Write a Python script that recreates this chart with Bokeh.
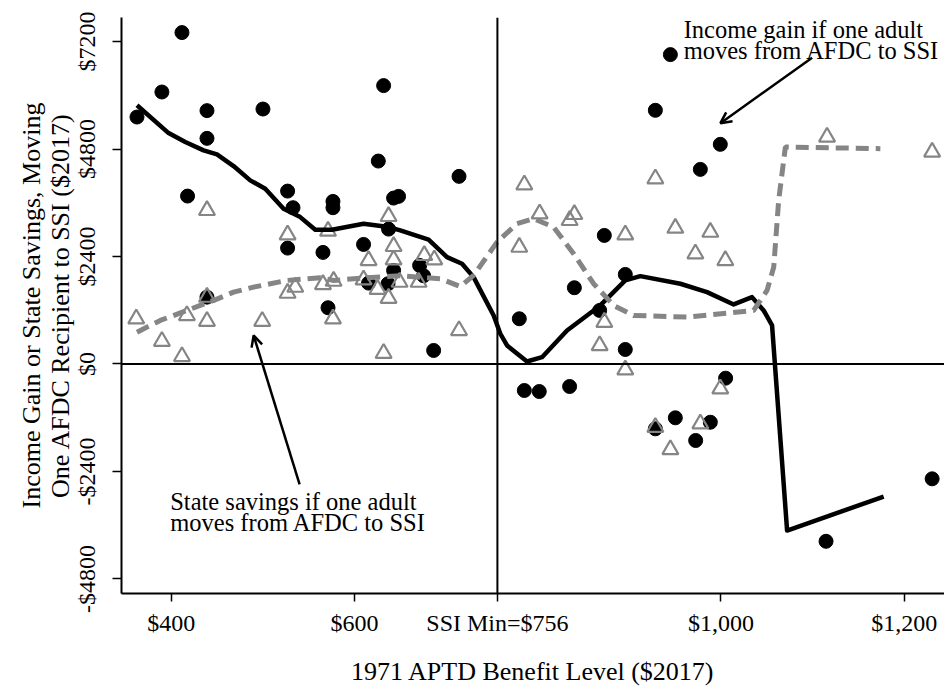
from bokeh.plotting import figure
from bokeh.models import Range1d, FixedTicker, Span, Label, Arrow, OpenHead
from bokeh.embed import file_html
from bokeh.resources import INLINE

# ---- data ----
gain_x = [362.6, 389.8, 411.7, 439.0, 439.0, 500.1, 417.8, 527.0, 532.9, 527.0,
          439.0, 565.6, 571.1, 576.5, 576.5, 609.9, 615.4, 626.0, 631.8, 637.2,
          642.7, 648.1, 642.7, 636.6, 671.1, 675.4, 686.4, 714.1, 779.9, 785.4,
          801.7, 834.8, 840.0, 867.6, 872.7, 895.6, 895.6, 928.4, 944.8, 977.5,
          999.3, 1005.1, 950.2, 928.4, 988.4, 972.4, 1114.7, 1230.5]
gain_y = [5515, 6074, 7401, 5658, 5039, 5694, 3750, 3861, 3490, 2588,
          1493, 2492, 1256, 3631, 3490, 2670, 1806, 4532, 6217, 3012,
          3705, 3743, 2089, 1792, 2201, 1971, 302, 4190, 1010, -592,
          -615, -503, 1703, 1196, 2871, 2000, 324, 5665, 6909, 4346,
          4905, -317, -1202, -1448, -1301, -1709, -3960, -2565]

save_x = [361.8, 389.8, 411.7, 417.1, 439.0, 439.0, 439.0, 499.3, 527.0, 527.0,
          535.4, 565.6, 571.1, 577.2, 576.5, 609.9, 615.4, 625.2, 631.8, 637.2,
          637.2, 642.7, 642.7, 649.2, 670.0, 676.2, 687.1, 714.1, 779.9, 785.4,
          802.1, 834.8, 840.0, 867.6, 872.7, 895.6, 895.6, 928.4, 928.4, 950.2,
          972.1, 988.4, 1004.8, 999.3, 977.5, 944.8, 1115.8, 1230.5]
save_y = [1010, 509, 168, 1084, 956, 3430, 1493, 956, 2887, 1582,
          1716, 1777, 2968, 1850, 1010, 1882, 2313, 1671, 241, 3296,
          1470, 2626, 2328, 1828, 1828, 2425, 2328, 749, 2610, 4004,
          3356, 3207, 3341, 413, 934, 2887, -130, 4138, -1412, 3035,
          2463, 2945, 2313, -554, -1336, -1911, 5068, 4733]

gain_fit_x = [362.6, 397.1, 415.3, 435.3, 449.9, 468.0, 486.2, 502.6, 522.6, 540.8,
              557.2, 575.4, 609.9, 637.2, 650.0, 680.9, 701.0, 717.4, 730.0, 751.9,
              759.2, 766.5, 788.3, 804.7, 832.0, 868.3, 895.6, 912.0, 955.7, 984.8,
              1013.9, 1033.9, 1046.6, 1055.8, 1072.2, 1177.6]
gain_fit_y = [5777, 5157, 4956, 4771, 4681, 4420, 4101, 3915, 3468, 3280,
              2999, 2999, 3133, 3057, 2983, 2775, 2387, 2239, 1940, 1084,
              675, 413, 56, 152, 749, 1307, 1866, 1962, 1792, 1605,
              1330, 1493, 1196, 860, -3721, -2961]

save_fit_x = [362.6, 388.0, 417.1, 446.2, 468.0, 489.8, 526.3, 562.7, 577.2, 613.6,
              650.0, 693.7, 715.5, 730.0, 755.6, 777.4, 795.5, 817.4, 839.2, 861.0,
              882.9, 904.7, 963.0, 1035.7, 1050.3, 1057.6, 1063.0, 1070.3, 1174.0]
save_fit_y = [711, 972, 1196, 1419, 1604, 1716, 1866, 1926, 1866, 1926,
              1971, 1904, 1732, 1978, 2722, 3133, 3245, 3057, 2463, 1792,
              1307, 1084, 1046, 1196, 1642, 2163, 3654, 4845, 4809]

x_ticks = [400, 600, 756, 1000, 1200]
x_tick_labels = ["$400", "$600", "SSI Min=$756", "$1,000", "$1,200"]
y_ticks = [-4800, -2400, 0, 2400, 4800, 7200]
y_tick_labels = ["-$4800", "-$2400", "$0", "$2400", "$4800", "$7200"]
ssi_min = 756

FONT = "Liberation Serif"
GRAY = "#858585"

p = figure(width=944, height=688, output_backend="svg", toolbar_location=None,
           x_range=Range1d(345.7, 1244.0), y_range=Range1d(-5126, 7738),
           min_border_left=121, min_border_right=0, min_border_top=17,
           min_border_bottom=95)
p.grid.visible = False
p.outline_line_color = None
p.background_fill_color = "white"
p.border_fill_color = "white"

for ax in (p.xaxis[0], p.yaxis[0]):
    ax.axis_line_width = 2
    ax.axis_line_color = "black"
    ax.major_tick_line_width = 1.5
    ax.major_tick_line_color = "black"
    ax.major_tick_in = 0
    ax.minor_tick_line_color = None
    ax.major_label_text_font = FONT
    ax.major_label_text_font_size = "24px"
    ax.major_label_text_color = "black"
    ax.axis_label_text_font = FONT
    ax.axis_label_text_font_size = "26px"
    ax.axis_label_text_font_style = "normal"
    ax.axis_label_text_color = "black"

p.xaxis.ticker = FixedTicker(ticks=x_ticks)
p.xaxis.major_label_overrides = dict(zip(x_ticks, x_tick_labels))
p.xaxis.major_tick_out = 8
p.xaxis.major_label_standoff = 8
p.xaxis.axis_label = "1971 APTD Benefit Level ($2017)"
p.xaxis.axis_label_standoff = 18

p.yaxis.ticker = FixedTicker(ticks=y_ticks)
p.yaxis.major_label_overrides = dict(zip(y_ticks, y_tick_labels))
p.yaxis.major_label_orientation = "vertical"
p.yaxis.major_tick_out = 9
p.yaxis.major_label_standoff = 12
p.yaxis.axis_label = "Income Gain or State Savings, Moving\nOne AFDC Recipient to SSI ($2017)"
p.yaxis.axis_label_standoff = -3
p.yaxis.axis_label_text_line_height = 1.0

p.add_layout(Span(location=ssi_min, dimension="height", line_color="black", line_width=2))
p.add_layout(Span(location=0, dimension="width", line_color="black", line_width=2))

p.scatter(gain_x, gain_y, marker="circle", size=14, fill_color="black", line_color="black")
p.scatter(save_x, save_y, marker="triangle", size=16, fill_color=None,
          line_color=GRAY, line_width=2.2)
p.line(gain_fit_x, gain_fit_y, line_color="black", line_width=4.5, line_join="round")
p.line(save_fit_x, save_fit_y, line_color=GRAY, line_width=5, line_dash="13 7")

for txt, x, y in [("Income gain if one adult", 959.3, 7464),
                  ("moves from AFDC to SSI", 959.3, 7002),
                  ("State savings if one adult", 398.9, -3064),
                  ("moves from AFDC to SSI", 398.9, -3533)]:
    p.add_layout(Label(x=x, y=y, text=txt, text_font=FONT, text_font_size="24.5px",
                       text_color="black", text_baseline="alphabetic", text_align="left"))

p.add_layout(Arrow(end=OpenHead(size=11, line_width=2.5, line_color="black"),
                   x_start=1099.5, y_start=6839, x_end=999.4, y_end=5378,
                   line_width=2.5, line_color="black"))
p.add_layout(Arrow(end=OpenHead(size=11, line_width=2.5, line_color="black"),
                   x_start=540.1, y_start=-2691, x_end=489.9, y_end=636.5,
                   line_width=2.5, line_color="black"))

open("out.html", "w").write(file_html(p, INLINE))
